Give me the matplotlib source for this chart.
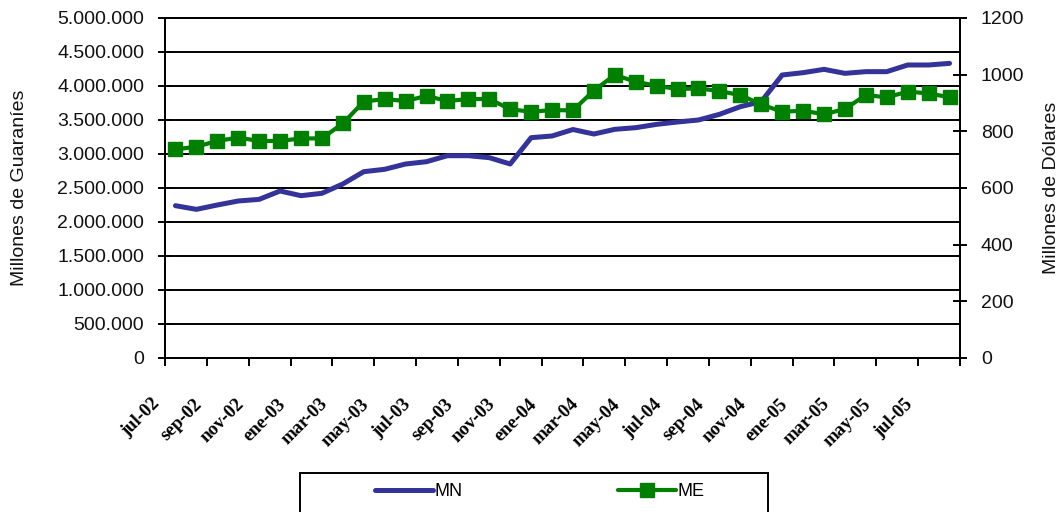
import matplotlib
matplotlib.use("Agg")
import matplotlib.pyplot as plt
import matplotlib.transforms as mtransforms
from matplotlib.patches import Rectangle
from matplotlib.ticker import FuncFormatter, MultipleLocator, FixedLocator

# monthly data, jul-02 .. ago-05
mn = [2.240, 2.186, 2.250, 2.309, 2.333, 2.456, 2.387, 2.422, 2.559, 2.740,
      2.775, 2.853, 2.887, 2.975, 2.975, 2.946, 2.853, 3.240, 3.265, 3.360,
      3.294, 3.363, 3.387, 3.436, 3.471, 3.500, 3.583, 3.696, 3.770, 4.162,
      4.196, 4.245, 4.186, 4.211, 4.211, 4.309, 4.309, 4.333]
mn = [v * 1e6 for v in mn]
me = [736, 746, 766, 778, 766, 766, 775, 775, 828, 905,
      914, 907, 925, 907, 914, 914, 878, 869, 875, 874,
      944, 999, 975, 961, 949, 952, 942, 928, 895, 869,
      873, 860, 879, 928, 920, 940, 934, 920]
tick_labels = ["jul-02", "sep-02", "nov-02", "ene-03", "mar-03", "may-03", "jul-03",
               "sep-03", "nov-03", "ene-04", "mar-04", "may-04", "jul-04", "sep-04",
               "nov-04", "ene-05", "mar-05", "may-05", "jul-05"]

x = list(range(len(mn)))

fig = plt.figure(figsize=(10.63, 5.12), dpi=100)
ax = fig.add_axes([165 / 1063, 1 - 358 / 512, 795 / 1063, 340 / 512])
ax2 = ax.twinx()

sans = "Liberation Sans"
fs = 14

ln1, = ax.plot(x, mn, color="#333399", lw=3.6, solid_capstyle="round", zorder=3)
ln2, = ax2.plot(x, me, color="#008000", lw=3.0, marker="s", markersize=9.5,
                solid_capstyle="round", zorder=3)

ax.set_xlim(-0.5, len(mn) - 0.5)
ax.set_ylim(0, 5_000_000)
ax2.set_ylim(0, 1200)
ax.yaxis.set_major_locator(MultipleLocator(500_000))
ax.yaxis.set_major_formatter(FuncFormatter(lambda v, p: f"{int(v):,}".replace(",", ".")))
ax2.yaxis.set_major_locator(MultipleLocator(200))

ax.grid(axis="y", color="black", lw=1.4)
ax.set_axisbelow(True)

# category boundary ticks every 2 months, labels on categories
ax.xaxis.set_major_locator(FixedLocator([i - 0.5 for i in range(0, len(mn) + 1, 2)]))
ax.xaxis.set_major_formatter(FuncFormatter(lambda v, p: ""))
ax.xaxis.set_minor_locator(FixedLocator(list(range(0, len(mn), 2))))
ax.set_xticklabels(tick_labels, minor=True)
ax.tick_params(axis="x", which="major", direction="out", length=6, width=1.4)
ax.tick_params(axis="x", which="minor", length=0, pad=27)
offset = mtransforms.ScaledTranslation(-0.12, 0, fig.dpi_scale_trans)
for lab in ax.get_xticklabels(minor=True):
    lab.set_rotation(45)
    lab.set_ha("right")
    lab.set_va("top")
    lab.set_fontfamily("Liberation Serif")
    lab.set_fontweight("bold")
    lab.set_fontsize(13.5)
    lab.set_transform(lab.get_transform() + offset)

ax.tick_params(axis="y", direction="inout", length=10, width=1.4, labelsize=fs, pad=10)
ax2.tick_params(axis="y", direction="inout", length=10, width=1.4, labelsize=fs, pad=10)
for lab in ax.get_yticklabels() + ax2.get_yticklabels():
    lab.set_fontfamily(sans)
    lab.set_color("#111111")

for a in (ax, ax2):
    for s in a.spines.values():
        s.set_linewidth(1.4)
        s.set_color("black")

ax.set_ylabel("Millones de Guaraníes", fontsize=fs, fontfamily=sans, color="#111111")
ax.yaxis.set_label_coords(-(165 - 28) / 795, 0.5)
ax2.set_ylabel("Millones de Dólares", fontsize=fs, fontfamily=sans, color="#111111")
ax2.yaxis.set_label_coords(1 + (1043 - 960) / 795, 0.5)

# legend box (cut off at bottom like the original)
fig.patches.append(Rectangle((300 / 1063, -0.05), 468 / 1063, 0.05 + 39 / 512,
                             transform=fig.transFigure, fill=False,
                             edgecolor="black", lw=1.4, clip_on=False))
fig.legend([ln1, ln2], ["MN", "ME"], loc="center left",
           bbox_to_anchor=(375 / 1063, 1 - 492 / 512), ncol=2, frameon=False,
           prop={"family": sans, "size": 13}, handlelength=3.2, handletextpad=0.1,
           columnspacing=8.6, borderpad=0, borderaxespad=0)

fig.savefig("out.png", dpi=100)
